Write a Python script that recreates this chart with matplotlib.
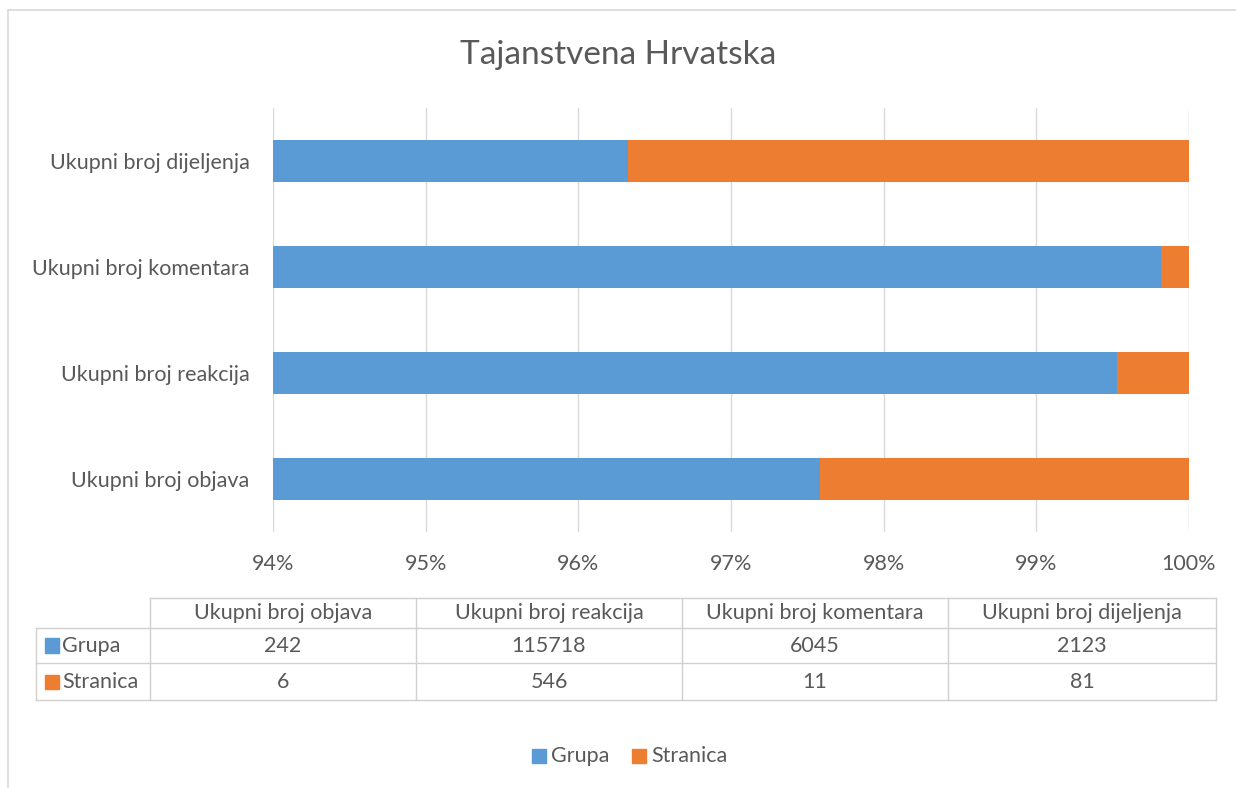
import matplotlib.pyplot as plt
from matplotlib.lines import Line2D
from matplotlib.patches import Rectangle

plt.rcParams['font.family'] = ['Lato', 'DejaVu Sans']

# podaci
kategorije = ["Ukupni broj objava", "Ukupni broj reakcija", "Ukupni broj komentara", "Ukupni broj dijeljenja"]
grupa = [242, 115718, 6045, 2123]
stranica = [6, 546, 11, 81]
serije = ["Grupa", "Stranica"]
boje = ["#5B9BD5", "#ED7D31"]
tekst = "#595959"
mreza = "#D9D9D9"

W, H = 1236, 788
fig = plt.figure(figsize=(W / 100, H / 100), dpi=100)

def fx(px):
    return px / W

def fy(py):
    return 1 - py / H

fs = 15.5

# udjeli u postotcima
ukupno = [g + s for g, s in zip(grupa, stranica)]
udio_g = [100 * g / u for g, u in zip(grupa, ukupno)]
udio_s = [100 * s / u for s, u in zip(stranica, ukupno)]

ax = fig.add_axes([fx(273), fy(532), fx(1189) - fx(273), fy(108) - fy(532)])
y = range(len(kategorije))
ax.barh(y, udio_g, height=0.4, color=boje[0], zorder=2)
ax.barh(y, udio_s, left=udio_g, height=0.4, color=boje[1], zorder=2)
ax.set_xlim(94, 100)
ax.set_ylim(-0.5, 3.5)
ax.set_xticks(range(94, 101))
ax.set_xticklabels([f"{v}%" for v in range(94, 101)])
ax.set_yticks(list(y))
ax.set_yticklabels(kategorije)
ax.tick_params(length=0, labelsize=fs, colors=tekst)
ax.tick_params(axis='x', pad=16)
ax.tick_params(axis='y', pad=17)
ax.grid(axis='x', color=mreza, linewidth=1, zorder=0)
for s in ax.spines.values():
    s.set_visible(False)

fig.text(0.5, fy(55), "Tajanstvena Hrvatska", ha='center', va='center', fontsize=24, color=tekst)

# okvir grafikona
fig.add_artist(Line2D([fx(8), fx(8)], [fy(10), 0], color=mreza, lw=1.2))
fig.add_artist(Line2D([fx(8), 1], [fy(10), fy(10)], color=mreza, lw=1.2))

# tablica s podacima
stupci = [150, 416, 682, 948, 1216]
redovi = [598, 628, 663, 700]
lc = "#D0D0D0"
for x in stupci:
    fig.add_artist(Line2D([fx(x), fx(x)], [fy(redovi[0]), fy(redovi[-1])], color=lc, lw=1))
fig.add_artist(Line2D([fx(36), fx(36)], [fy(redovi[1]), fy(redovi[-1])], color=lc, lw=1))
fig.add_artist(Line2D([fx(150), fx(1216)], [fy(redovi[0]), fy(redovi[0])], color=lc, lw=1))
for r in redovi[1:]:
    fig.add_artist(Line2D([fx(36), fx(1216)], [fy(r), fy(r)], color=lc, lw=1))

for i, k in enumerate(kategorije):
    cx = (stupci[i] + stupci[i + 1]) / 2
    fig.text(fx(cx), fy((redovi[0] + redovi[1]) / 2), k, ha='center', va='center', fontsize=fs, color=tekst)
    for j, vals in enumerate([grupa, stranica]):
        fig.text(fx(cx), fy((redovi[j + 1] + redovi[j + 2]) / 2), str(vals[i]),
                 ha='center', va='center', fontsize=fs, color=tekst)

for j, naziv in enumerate(serije):
    cy = (redovi[j + 1] + redovi[j + 2]) / 2
    fig.add_artist(Rectangle((fx(45), fy(cy + 7)), fx(14), fy(cy - 7) - fy(cy + 7), color=boje[j]))
    fig.text(fx(62), fy(cy), naziv, ha='left', va='center', fontsize=fs, color=tekst)

# legenda
leg = [(532, 551), (632, 651)]
for j, naziv in enumerate(serije):
    x0, xt = leg[j]
    fig.add_artist(Rectangle((fx(x0), fy(763)), fx(14), fy(749) - fy(763), color=boje[j]))
    fig.text(fx(xt), fy(756), naziv, ha='left', va='center', fontsize=fs, color=tekst)

fig.savefig("out.png", dpi=100)
